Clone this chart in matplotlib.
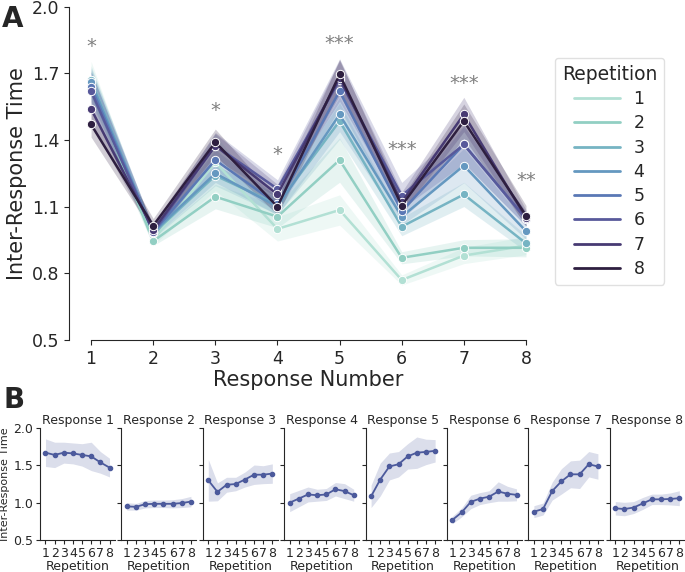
import numpy as np
import matplotlib
matplotlib.use('Agg')
import matplotlib.pyplot as plt
import seaborn as sns

# ------------------------------------------------------------
# Daten
# ------------------------------------------------------------
responses = [1, 2, 3, 4, 5, 6, 7, 8]
repetitions = [1, 2, 3, 4, 5, 6, 7, 8]

# mittlere Inter-Response-Zeit: je Response, über Repetition 1..8
irt_r1 = [1.67, 1.64, 1.67, 1.66, 1.64, 1.62, 1.54, 1.47]
irt_r2 = [0.95, 0.945, 0.98, 0.985, 0.985, 0.985, 0.995, 1.015]
irt_r3 = [1.30, 1.145, 1.24, 1.25, 1.31, 1.375, 1.375, 1.39]
irt_r4 = [1.00, 1.055, 1.11, 1.10, 1.11, 1.18, 1.155, 1.10]
irt_r5 = [1.085, 1.31, 1.485, 1.515, 1.62, 1.67, 1.68, 1.695]
irt_r6 = [0.77, 0.87, 1.01, 1.055, 1.08, 1.15, 1.12, 1.105]
irt_r7 = [0.88, 0.915, 1.155, 1.285, 1.38, 1.38, 1.515, 1.485]
irt_r8 = [0.925, 0.915, 0.935, 0.99, 1.045, 1.045, 1.05, 1.06]

# halbe Breite des 95%-KI (Panel B)
ci_r1 = [0.185, 0.17, 0.14, 0.14, 0.15, 0.19, 0.145, 0.125]
ci_r2 = [0.05, 0.045, 0.05, 0.05, 0.05, 0.055, 0.06, 0.07]
ci_r3 = [0.28, 0.12, 0.10, 0.09, 0.10, 0.13, 0.12, 0.13]
ci_r4 = [0.12, 0.11, 0.10, 0.08, 0.08, 0.09, 0.10, 0.08]
ci_r5 = [0.15, 0.22, 0.18, 0.17, 0.17, 0.21, 0.17, 0.15]
ci_r6 = [0.05, 0.06, 0.09, 0.08, 0.08, 0.13, 0.10, 0.08]
ci_r7 = [0.08, 0.08, 0.12, 0.17, 0.18, 0.19, 0.17, 0.17]
ci_r8 = [0.09, 0.09, 0.08, 0.08, 0.07, 0.07, 0.08, 0.10]

# Signifikanz je Response und Höhe der Sterne
stars = ['*', '', '*', '*', '***', '***', '***', '**']
star_y = [1.82, 0, 1.535, 1.333, 1.835, 1.358, 1.655, 1.216]

irt = np.array([irt_r1, irt_r2, irt_r3, irt_r4, irt_r5, irt_r6, irt_r7, irt_r8])
ci = np.array([ci_r1, ci_r2, ci_r3, ci_r4, ci_r5, ci_r6, ci_r7, ci_r8])
se = ci / 2.2  # Panel A zeigt +/- SE

# ------------------------------------------------------------
# Plot
# ------------------------------------------------------------
sns.set_style('ticks')
plt.rcParams['font.family'] = ['DejaVu Sans']
txt = '.15'

fig = plt.figure(figsize=(6.85, 5.72), dpi=100)
# Farben Repetition 1..8 (hell-mint -> dunkel-violett)
pal = ['#b2e0d4', '#92cfc3', '#76b4c3', '#6598c0',
       '#5a78b5', '#58599b', '#473a73', '#2e1f40']

# Panel A
ax = fig.add_axes([0.1012, 0.4056, 0.6984, 0.5827])
for j, rep in enumerate(repetitions):
    m = irt[:, j]
    e = se[:, j]
    ax.fill_between(responses, m - e, m + e, color=pal[j], alpha=0.22, lw=0)
    ax.plot(responses, m, color=pal[j], lw=1.8, marker='o', ms=6,
            mec='white', mew=0.7, label=str(rep))

for x, s, y in zip(responses, stars, star_y):
    if s:
        ax.text(x, y, s, ha='center', va='center', fontsize=14,
                color='grey')

ax.set_xlim(0.65, 8.35)
ax.set_ylim(0.5, 2.0)
ax.set_xticks(responses)
ax.set_yticks([0.5, 0.8, 1.1, 1.4, 1.7, 2.0])
ax.tick_params(labelsize=12.5, colors=txt)
ax.set_xlabel('Response Number', fontsize=15, color=txt, labelpad=2)
ax.set_ylabel('Inter-Response Time', fontsize=15, color=txt, labelpad=4)
sns.despine(ax=ax, trim=True)

leg = ax.legend(title='Repetition', loc='upper left',
                bbox_to_anchor=(0.810, 0.8986),
                bbox_transform=fig.transFigure, borderaxespad=0,
                fontsize=12.5, title_fontsize=13.5, handlelength=2.6,
                labelspacing=0.36, frameon=True)
for h in leg.get_lines():
    h.set_marker('')
    h.set_linewidth(2)
leg.get_frame().set_edgecolor('0.85')

fig.text(0.003, 0.992, 'A', fontsize=20, fontweight='bold', va='top')
fig.text(0.005, 0.325, 'B', fontsize=20, fontweight='bold', va='top')

# Panel B
col_b = '#4c5a9c'
for i, r in enumerate(responses):
    left = (40 + 81.4 * i) / 685
    axb = fig.add_axes([left, 0.0559, 0.1095, 0.1958])
    m = irt[i]
    e = ci[i]
    axb.fill_between(repetitions, m - e, m + e, color=col_b, alpha=0.2, lw=0)
    axb.plot(repetitions, m, color=col_b, lw=1.3, marker='o', ms=3)
    axb.set_xlim(0.4, 8.6)
    axb.set_ylim(0.5, 2.0)
    axb.set_xticks(repetitions)
    axb.set_yticks([0.5, 1.0, 1.5, 2.0])
    axb.tick_params(labelsize=9, colors=txt, length=3, pad=2)
    axb.set_title('Response %d' % r, fontsize=9, color=txt, pad=3)
    axb.set_xlabel('Repetition', fontsize=9, color=txt, labelpad=0)
    if i == 0:
        axb.set_ylabel('Inter-Response Time', fontsize=8, color=txt,
                       labelpad=2)
    else:
        axb.set_yticklabels([])
    sns.despine(ax=axb)

fig.savefig('out.png', dpi=100)
